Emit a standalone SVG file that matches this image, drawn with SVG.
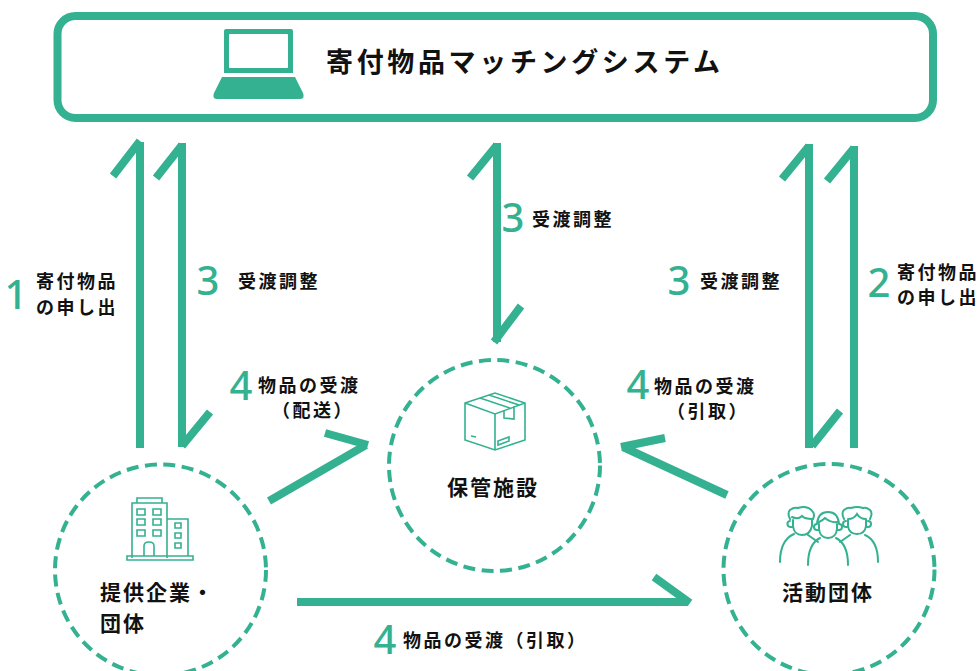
<svg xmlns="http://www.w3.org/2000/svg" width="979" height="671" viewBox="0 0 979 671">
<style>
.c{fill:none;stroke:#34b191;stroke-width:8}
.d{fill:none;stroke:#34b191;stroke-width:4;stroke-dasharray:12 6.5}
.i{fill:none;stroke:#34b191;stroke-width:1.6}
.p{fill:none;stroke:#34b191;stroke-width:2;stroke-linecap:round}
.t{font-family:"Noto Sans CJK JP",sans-serif;font-weight:700;fill:#111;font-size:21px;letter-spacing:2px}
.s{font-family:"Noto Sans CJK JP",sans-serif;font-weight:700;fill:#111;font-size:18px;letter-spacing:2.5px}
.n{font-family:"Noto Sans",sans-serif;font-weight:500;fill:#34b191;font-size:40px;text-anchor:middle}
</style>
<rect width="979" height="671" fill="#fff"/>
<g id="connectors">
<path class="c" d="M140 448V142M113 176L140 141"/>
<path class="c" d="M156 178L182 145M182 143V447M182 446L210 412"/>
<path class="c" d="M470 178L497 145M497 143V342M494 342L521 306"/>
<path class="c" d="M782 179L809 146M809 144V448M812 446L840 411"/>
<path class="c" d="M827 181L854 148M854 146V448"/>
<path class="c" d="M269 501L366 445M368 445L325 433"/>
<path class="c" d="M727 495L623 447M621 447L665 438"/>
<path class="c" d="M297 602H688M654 577L690 603"/>
</g>
<g id="system">
<rect x="57.500" y="16" width="875.500" height="102" rx="18" fill="#fff" stroke="#34b191" stroke-width="8"/>
<path d="M226 29h65a2 2 0 0 1 2 2v42h-69v-42a2 2 0 0 1 2-2zM230 34a1 1 0 0 0-1 1v32a1 1 0 0 0 1 1h57a1 1 0 0 0 1-1v-32a1 1 0 0 0-1-1z" fill="#34b191" fill-rule="evenodd"/>
<path d="M222 77h73l8 16q2 6-3 6h-83q-5 0-3-6z" fill="#34b191"/>
<text class="t" x="326" y="72" style="font-size:27px;letter-spacing:3.650px">寄付物品マッチングシステム</text>
</g>
<g id="provider">
<circle cx="160.500" cy="570" r="105.500" class="d"/>
<path class="i" d="M137 503v-5h25v5M132 558v-55h35v55M167 519h21v37M127 556h66v4h-66zM144 556v-10q0-4 5-4t5 4v10M137 509h8v6h-8zM153 509h8v6h-8zM137 519h8v6h-8zM153 519h8v6h-8zM137 530h8v6h-8zM153 530h8v6h-8zM175 523h6v5h-6zM175 533h6v5h-6zM175 543h6v5h-6z"/>
<text class="t" x="100" y="600">提供企業・</text>
<text class="t" x="100" y="631">団体</text>
</g>
<g id="storage">
<circle cx="494.500" cy="465.500" r="105.500" class="d"/>
<path class="i" d="M465 403L495 393L525 403V440L495 450L465 440ZM465 403L495 414L525 403M495 414V450M480 398L510 408M489 395L519 405M504 410V418L514 419V406M471 436L476 437M498 445V441L509 437V441Z"/>
<text class="t" x="447" y="495">保管施設</text>
</g>
<g id="group">
<circle cx="829" cy="569.500" r="105.500" class="d"/>
<g class="p">
<path d="M790 519q-3-6 0-9q4-3 8-2q10-3 15 4q2 3 0 7M792 517q6 3 10-1q3 3 10 3M793 520v6q1 9 9 9t10-9v-6M790 521a3 3 0 0 0 1 6h2M794 534c-9 4-14 14-14 28M808 535l10 7"/>
<path d="M817 524q1-12 11-12t11 12M819 522q4-2 6-4q6 5 12 4M819 524v5q1 9 9 9t9-9v-5M817 524a3 3 0 0 0 0 6h2M839 524a3 3 0 0 1 0 6h-2M820 538c-8 4-12 14-12 27M836 538c8 4 12 14 12 27"/>
<path d="M844 519q-3-6 0-9q4-3 7-2q6-2 12 0q3-1 7 2q3 3 0 9M848 520v6q1 8 9 8t9-8v-6M848 519q6 0 9-5q3 5 9 5M846 521a3 3 0 0 0 0 6h2M868 521a3 3 0 0 1 0 6h-2M865 535c9 4 13 14 13 27M850 535l-10 7"/>
</g>
<text class="t" x="782" y="600">活動団体</text>
</g>
<g id="labels">
<text class="n" x="16" y="309">1</text><text class="s" x="36" y="288">寄付物品</text><text class="s" x="36" y="314">の申し出</text>
<text class="n" x="208" y="295">3</text><text class="s" x="238" y="288">受渡調整</text>
<text class="n" x="513" y="232">3</text><text class="s" x="532" y="226">受渡調整</text>
<text class="n" x="679" y="295">3</text><text class="s" x="700" y="288">受渡調整</text>
<text class="n" x="879" y="297">2</text><text class="s" x="897" y="279">寄付物品</text><text class="s" x="897" y="304">の申し出</text>
<text class="n" x="241" y="400">4</text><text class="s" x="258" y="392">物品の受渡</text><text class="s" x="272" y="417">（配送）</text>
<text class="n" x="638" y="399">4</text><text class="s" x="654" y="393">物品の受渡</text><text class="s" x="667" y="418">（引取）</text>
<text class="n" x="385" y="654">4</text><text class="s" x="403" y="647">物品の受渡（引取）</text>
</g>
</svg>
